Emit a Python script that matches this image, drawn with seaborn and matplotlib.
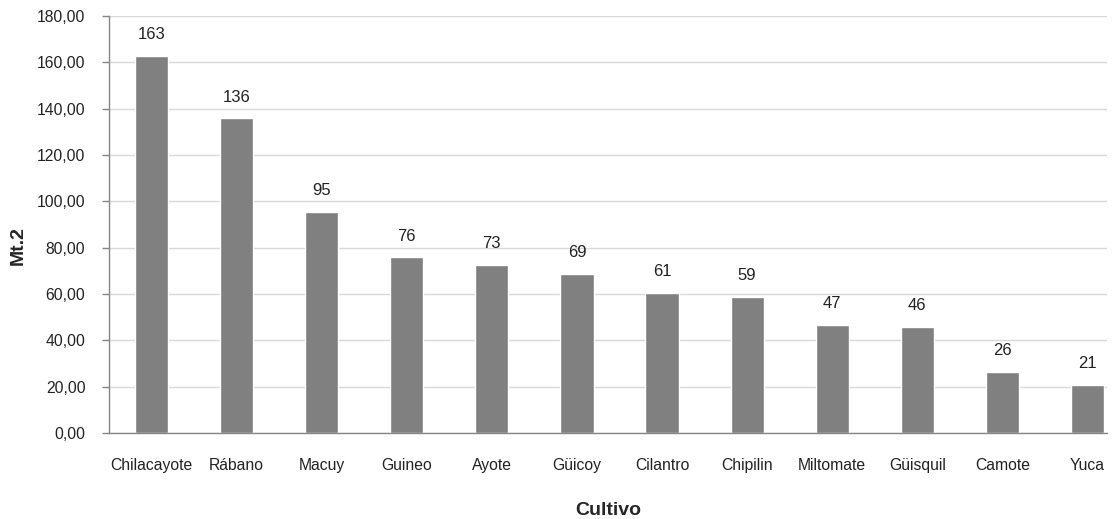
import numpy as np
import pandas as pd
import matplotlib
matplotlib.use('Agg')
import matplotlib.pyplot as plt
import seaborn as sns
from matplotlib.ticker import FuncFormatter, FixedLocator

# ----------------- DATA -----------------
cultivos = ['Chilacayote', 'Rábano', 'Macuy', 'Guineo', 'Ayote', 'Güicoy',
            'Cilantro', 'Chipilin', 'Miltomate', 'Güisquil', 'Camote', 'Yuca']
area_m2 = [162.6, 135.8, 95.3, 75.8, 72.6, 68.7, 60.6, 58.6, 46.6, 45.6, 26.2, 20.8]
y_ticks = [0, 20, 40, 60, 80, 100, 120, 140, 160, 180]
# ----------------------------------------

df = pd.DataFrame({'Cultivo': cultivos, 'Mt.2': area_m2})

sns.set_style('white')
plt.rcParams['font.family'] = ['Liberation Sans', 'DejaVu Sans']

fig = plt.figure(figsize=(11.13, 5.19), dpi=100)
ax = fig.add_axes([109 / 1113, 86 / 519, 998 / 1113, 417 / 519])

sns.barplot(data=df, x='Cultivo', y='Mt.2', color='#808080', saturation=1,
            width=0.39, ax=ax)

# value labels on top of the bars
for i, v in enumerate(area_m2):
    ax.annotate(f'{round(v)}', (i, v), xytext=(0, 10), textcoords='offset points',
                ha='center', va='bottom', fontsize=12, color='#222222')

# Excel-like category ticks: marks between categories, labels centred
ax.set_xticks(np.arange(-0.5, len(cultivos), 1), minor=True)
ax.tick_params(axis='x', which='minor', length=5, width=1, color='#868686', direction='out')
ax.tick_params(axis='x', which='major', length=0, pad=18, labelsize=11.3, labelcolor='#222222')
ax.tick_params(axis='y', length=5, width=1, color='#868686', direction='out', pad=12,
               labelsize=11.3, labelcolor='#222222', left=True)

ax.set_ylim(0, 180)
ax.set_xlim(-0.5, 11.23)
ax.yaxis.set_major_locator(FixedLocator(y_ticks))
ax.yaxis.set_major_formatter(FuncFormatter(lambda v, p: f'{v:.2f}'.replace('.', ',')))
ax.grid(axis='y', color='#d9d9d9', linewidth=1)
ax.set_axisbelow(True)

for s in ['top', 'right']:
    ax.spines[s].set_visible(False)
for s in ['left', 'bottom']:
    ax.spines[s].set_color('#868686')
    ax.spines[s].set_linewidth(1)

ax.set_xlabel('Cultivo', fontsize=14, fontweight='bold')
ax.xaxis.label.set_va('center')
ax.xaxis.set_label_coords(0.5, -0.185)
ax.set_ylabel('Mt.2', fontsize=14, fontweight='bold')
ax.yaxis.label.set_va('center')
ax.yaxis.set_label_coords(-0.091, 0.45)

fig.savefig('out.png', dpi=100)
